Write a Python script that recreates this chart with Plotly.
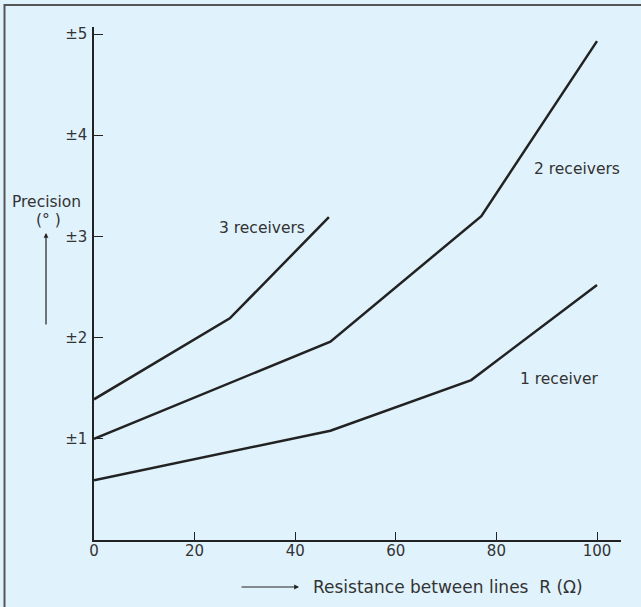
import plotly.graph_objects as go

# Data
r_1rx = [0, 47, 75, 100]
p_1rx = [0.59, 1.08, 1.58, 2.52]
r_2rx = [0, 47, 77, 100]
p_2rx = [1.0, 1.96, 3.2, 4.93]
r_3rx = [0, 27, 46.7]
p_3rx = [1.39, 2.19, 3.19]

x_ticks = [0, 20, 40, 60, 80, 100]
y_ticks = [1, 2, 3, 4, 5]
y_tick_text = ["±1", "±2", "±3", "±4", "±5"]

W, H = 641, 607
L, R, T, B = 94, 20, 27, 67
PW, PH = W - L - R, H - T - B
BG = "#e0f2fc"
LINE = "#222222"
TXT = "#333333"
FONT = "DejaVu Sans"


def px(x):
    return (x - L) / PW


def py(y):
    return (H - B - y) / PH


fig = go.Figure()
for xs, ys in [(r_1rx, p_1rx), (r_2rx, p_2rx), (r_3rx, p_3rx)]:
    fig.add_trace(go.Scatter(x=xs, y=ys, mode="lines",
                             line=dict(color=LINE, width=2.5),
                             showlegend=False, hoverinfo="skip"))

annots = []
for text, x, y in [("3 receivers", 262, 228), ("2 receivers", 577, 169),
                   ("1 receiver", 559, 379), ("Precision", 46, 202),
                   ("(° )", 48, 220)]:
    annots.append(dict(text=text, x=px(x), y=py(y), xref="paper", yref="paper",
                       showarrow=False, xanchor="center", yanchor="middle",
                       font=dict(family=FONT, size=15.5, color=TXT)))
annots.append(dict(text="Resistance between lines\u00a0\u00a0R (Ω)", x=px(311), y=py(587),
                   xref="paper", yref="paper", showarrow=False,
                   xanchor="left", yanchor="middle",
                   font=dict(family=FONT, size=17, color=TXT)))
# arrows
annots.append(dict(text="", x=px(46), y=py(233), xref="paper", yref="paper",
                   showarrow=True, ax=0, ay=93, axref="pixel", ayref="pixel",
                   arrowhead=2, arrowsize=0.8, arrowwidth=1.2, arrowcolor=LINE))
annots.append(dict(text="", x=px(299), y=py(587), xref="paper", yref="paper",
                   showarrow=True, ax=-59, ay=0, axref="pixel", ayref="pixel",
                   arrowhead=2, arrowsize=0.8, arrowwidth=1.2, arrowcolor=LINE))

shapes = [
    dict(type="line", xref="paper", yref="paper", x0=px(4), x1=px(W + 5),
         y0=py(5), y1=py(5), line=dict(color="#555555", width=2)),
    dict(type="line", xref="paper", yref="paper", x0=px(4.5), x1=px(4.5),
         y0=py(4), y1=py(H + 5), line=dict(color="#555555", width=2)),
]

fig.update_layout(
    width=W, height=H,
    margin=dict(l=L, r=R, t=T, b=B),
    paper_bgcolor=BG, plot_bgcolor=BG,
    annotations=annots, shapes=shapes,
    xaxis=dict(range=[0, PW / 5.03], tickvals=x_ticks, ticks="inside",
               ticklen=8, tickcolor=LINE, tickwidth=1.2,
               showline=True, linecolor=LINE, linewidth=1.5,
               showgrid=False, zeroline=False, ticklabelstandoff=-4,
               tickfont=dict(family=FONT, size=15, color=TXT)),
    yaxis=dict(range=[0, PH / 101.2], tickvals=y_ticks, ticktext=y_tick_text,
               ticks="inside", ticklen=9, tickcolor=LINE, tickwidth=1.2,
               showline=True, linecolor=LINE, linewidth=1.5,
               showgrid=False, zeroline=False, ticklabelstandoff=2,
               tickfont=dict(family=FONT, size=15, color=TXT)),
)

fig.write_html("out.html", config={"displayModeBar": False},
               post_script="document.body.style.margin='0';document.body.style.overflow='hidden';")
